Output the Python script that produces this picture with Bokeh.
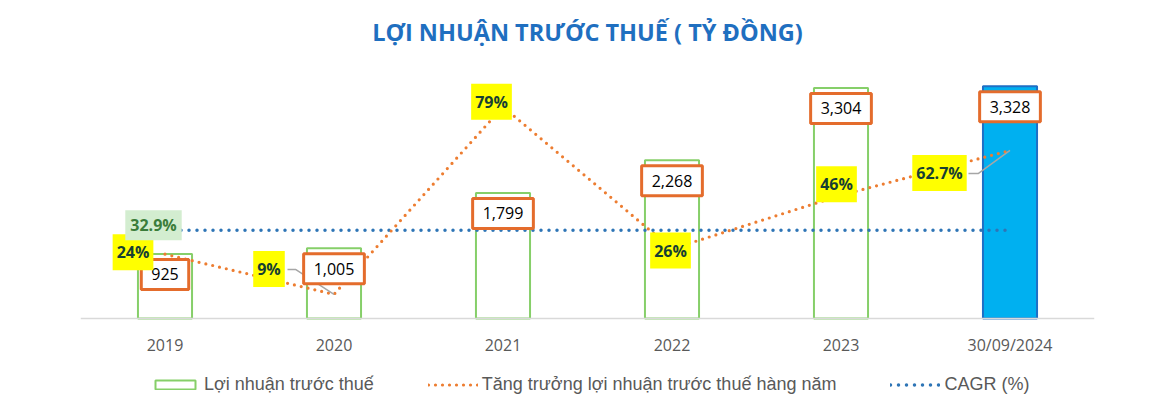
from bokeh.plotting import figure
from bokeh.models import Range1d, Label, Legend, LegendItem, Span
from bokeh.embed import file_html
from bokeh.resources import INLINE

# ---------------- data ----------------
categories = ["2019", "2020", "2021", "2022", "2023", "30/09/2024"]
profit = [925, 1005, 1799, 2268, 3304, 3328]          # Lợi nhuận trước thuế (tỷ đồng)
growth = [24, 9, 79, 26, 46, 62.7]                     # Tăng trưởng (%)
growth_labels = ["24%", "9%", "79%", "26%", "46%", "62.7%"]
cagr = 32.9
cagr_label = "32.9%"

# ---------------- layout / style ----------------
W, H = 1150, 406
BL, BT = 80, 50
FW = 1014
FH_POS, FH_NEG = 268, 82          # frame part above / below the zero line
BR, BB = W - BL - FW, H - BT - FH_POS - FH_NEG
Y_MAX = 3840
PCT_MAX = 100
Y_MIN = -Y_MAX * FH_NEG / FH_POS
PCT_MIN = -PCT_MAX * FH_NEG / FH_POS
PX_CAT = FW / len(categories)
PX_PCT = FH_POS / PCT_MAX

x = list(range(len(categories)))

p = figure(width=W, height=H, output_backend="svg", toolbar_location=None,
           x_range=Range1d(-0.5, len(categories) - 0.5), y_range=Range1d(Y_MIN, Y_MAX),
           min_border_left=BL, min_border_right=BR, min_border_top=BT, min_border_bottom=BB)
p.extra_y_ranges = {"pct": Range1d(PCT_MIN, PCT_MAX)}
p.outline_line_color = None
p.grid.visible = False
p.axis.visible = False

p.title.text = "LỢI NHUẬN TRƯỚC THUẾ ( TỶ ĐỒNG)"
p.title.align = "center"
p.title.vertical_align = "bottom"
p.title.standoff = 6
p.title.text_font = "Open Sans"
p.title.text_font_size = "23.5px"
p.title.text_font_style = "bold"
p.title.text_color = "#1F6FC0"

# category axis: base line + labels
p.add_layout(Span(location=0, dimension="width", line_color="#D9D9D9", line_width=1.5))
for i, c in zip(x, categories):
    p.add_layout(Label(x=i, y=0, y_offset=-26, text=c, text_align="center",
                       text_baseline="middle", text_font="Open Sans",
                       text_font_size="16px", text_color="#595959"))

n = len(categories)
bar_fill_alpha = [0] * (n - 1) + [1]
bar_line = ["#86CF69"] * (n - 1) + ["#1F6FC5"]
bars = p.vbar(x=x, top=profit, width=0.32, fill_color="#00B0F0", fill_alpha=bar_fill_alpha,
              line_color=bar_line, line_width=2)

cagr_line = p.line(x=[x[0], x[-1]], y=[cagr, cagr], y_range_name="pct",
                   line_color="#2E75B6", line_width=3.5, line_dash="0 8", line_cap="round")
growth_line = p.line(x=x, y=growth, y_range_name="pct", line_color="#ED7D31",
                     line_width=3.2, line_dash="0 7", line_cap="round")

# leader lines (pixel offsets from the data point, y up)
leaders = {1: [(-46.5, 25), (-38.5, 25), (0, 0)], 5: [(-41.5, -23), (-31.5, -23), (0, 0)]}
for i, pts in leaders.items():
    p.line(x=[x[i] + dx / PX_CAT for dx, dy in pts],
           y=[growth[i] + dy / PX_PCT for dx, dy in pts],
           y_range_name="pct", line_color="#A6A6A6", line_width=1.5)

# value labels (orange boxes)
for i, v in enumerate(profit):
    p.add_layout(Label(x=x[i], y=v, y_offset=-20.5, text=f"{v:,}", text_align="center",
                       text_baseline="middle", text_font="Open Sans", text_font_size="16px",
                       text_color="#000000", background_fill_color="white",
                       border_line_color="#E46C2C", border_line_width=3, padding=(10, 9)))

# growth labels (yellow)
g_off = [(-32, 2), (-65, 25.4), (-11.5, 5), (-1.5, -1.7), (-4.5, 11), (-70.5, -22.5)]
for i, (t, (dx, dy)) in enumerate(zip(growth_labels, g_off)):
    p.add_layout(Label(x=x[i], y=growth[i], y_range_name="pct", x_offset=dx, y_offset=dy,
                       text=t, text_align="center", text_baseline="middle",
                       text_font="Open Sans", text_font_size="16px", text_font_style="bold",
                       text_color="#173F33", background_fill_color="#FFFF00", padding=(4, 7)))

p.add_layout(Label(x=x[0], y=cagr, y_range_name="pct", x_offset=-11.5, y_offset=5,
                   text=cagr_label, text_align="center", text_baseline="middle",
                   text_font="Open Sans", text_font_size="16px", text_font_style="bold",
                   text_color="#3B7D3A", background_fill_color="#D3EDD0", padding=(5, 4)))

legend = Legend(items=[
    LegendItem(label="Lợi nhuận trước thuế", renderers=[bars], index=0),
    LegendItem(label="Tăng trưởng lợi nhuận trước thuế hàng năm", renderers=[growth_line]),
    LegendItem(label="CAGR (%)", renderers=[cagr_line]),
], orientation="horizontal", location=(70, 5), border_line_color=None,
    background_fill_alpha=0, padding=0, margin=0, spacing=54, glyph_width=50,
    glyph_height=11, label_standoff=4, label_text_font="Liberation Sans",
    label_text_font_size="18px", label_text_color="#595959")
p.add_layout(legend)

open("out.html", "w").write(file_html(p, INLINE))
